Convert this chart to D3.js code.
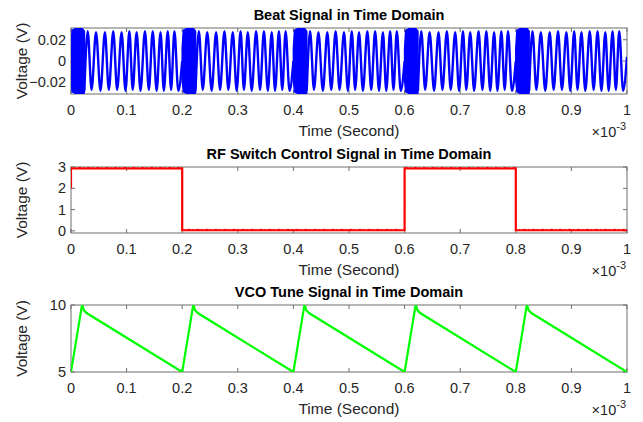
<!DOCTYPE html>
<html>
<head>
<meta charset="utf-8">
<script src="https://cdn.jsdelivr.net/npm/d3@7"></script>
<style>
  body { margin: 0; background: #fff; }
  svg { display: block; font-family: "Liberation Sans", Arial, sans-serif; }
  .tick-label { font-size: 14.5px; fill: #262626; }
  .axis-title { font-size: 15.5px; fill: #262626; }
  .plot-title { font-size: 14.5px; font-weight: bold; fill: #000; }
</style>
</head>
<body>
<div id="chart"></div>
<script>
// --- data (time in ms, shown with a x10^-3 multiplier) ---
const xTicks = [0, 0.1, 0.2, 0.3, 0.4, 0.5, 0.6, 0.7, 0.8, 0.9, 1];
const periodStarts = [0, 0.2, 0.4, 0.6, 0.8];

// beat signal: dense burst at the start of each period, then a slow tone
const burstOffsets = [0, 0.002, 0.006, 0.010, 0.014, 0.018, 0.021, 0.024];
const burstTop = [0.012, 0.029, 0.030, 0.031, 0.030, 0.031, 0.030, 0.028];
const burstBottom = [-0.018, -0.029, -0.030, -0.031, -0.030, -0.031, -0.031, -0.030];
const toneOffsets = [0.024, 0.030, 0.037, 0.045, 0.053, 0.061, 0.068, 0.076, 0.083, 0.091, 0.098,
                     0.105, 0.111, 0.118, 0.125, 0.133, 0.140, 0.147, 0.154, 0.161, 0.167, 0.174,
                     0.180, 0.186, 0.193];
const toneValues = [-0.028, 0.028, -0.027, 0.027, -0.028, 0.027, -0.027, 0.028, -0.027, 0.027, -0.028,
                    0.028, -0.027, 0.027, -0.028, 0.028, -0.027, 0.028, -0.028, 0.027, -0.028, 0.028,
                    -0.027, 0.028, -0.028];
const beatEnd = [1.0, 0.004];
const beatYTicks = [-0.02, 0, 0.02];

// RF switch control
const rfTimes =  [0, 0, 0.2, 0.2, 0.6, 0.6, 0.8, 0.8, 1.0];
const rfValues = [2.0, 2.93, 2.93, 0.03, 0.03, 2.93, 2.93, 0.03, 0.03];
const rfYTicks = [0, 1, 2, 3];

// VCO tune: one sawtooth period (offsets within 0.2 ms)
const vcoOffsets = [0, 0.020, 0.023, 0.028, 0.2];
const vcoValues = [5.0, 10.05, 9.62, 9.40, 5.0];
const vcoYTicks = [5, 10];

const titles = ["Beat Signal in Time Domain", "RF Switch Control Signal in Time Domain", "VCO Tune Signal in Time Domain"];

// --- layout ---
const W = 643, H = 422;
const left = 71, right = 627;
const panels = [
  { top: 28, bottom: 94, domain: [-0.031, 0.031], ticks: beatYTicks, fmt: d => d === 0 ? "0" : d3.format(".2f")(d) },
  { top: 167, bottom: 233, domain: [-0.1, 3], ticks: rfYTicks, fmt: d3.format("d") },
  { top: 305, bottom: 372, domain: [5, 10], ticks: vcoYTicks, fmt: d3.format("d") }
];

const svg = d3.select("#chart").append("svg").attr("width", W).attr("height", H);
const x = d3.scaleLinear().domain([0, 1]).range([left, right]);
const axisColor = "#6e6e6e";

panels.forEach((p, i) => {
  p.y = d3.scaleLinear().domain(p.domain).range([p.bottom, p.top]);
  const g = svg.append("g");

  g.append("clipPath").attr("id", "clip" + i)
    .append("rect").attr("x", left).attr("y", p.top).attr("width", right - left).attr("height", p.bottom - p.top);

  // box
  g.append("rect").attr("x", left).attr("y", p.top).attr("width", right - left).attr("height", p.bottom - p.top)
    .attr("fill", "none").attr("stroke", axisColor).attr("stroke-width", 1);

  // inward ticks on all four sides
  xTicks.forEach(t => {
    g.append("line").attr("x1", x(t)).attr("x2", x(t)).attr("y1", p.bottom).attr("y2", p.bottom - 4).attr("stroke", axisColor);
    g.append("line").attr("x1", x(t)).attr("x2", x(t)).attr("y1", p.top).attr("y2", p.top + 4).attr("stroke", axisColor);
    g.append("text").attr("class", "tick-label").attr("x", x(t)).attr("y", p.bottom + 21)
      .attr("text-anchor", "middle").text(t);
  });
  p.ticks.forEach(v => {
    g.append("line").attr("x1", left).attr("x2", left + 4).attr("y1", p.y(v)).attr("y2", p.y(v)).attr("stroke", axisColor);
    g.append("line").attr("x1", right).attr("x2", right - 4).attr("y1", p.y(v)).attr("y2", p.y(v)).attr("stroke", axisColor);
    g.append("text").attr("class", "tick-label").attr("x", left - 5).attr("y", p.y(v)).attr("dy", "0.35em")
      .attr("text-anchor", "end").text(p.fmt(v));
  });

  g.append("text").attr("class", "axis-title").attr("x", (left + right) / 2).attr("y", p.bottom + 42)
    .attr("text-anchor", "middle").text("Time (Second)");
  g.append("text").attr("class", "axis-title")
    .attr("transform", `translate(${22}, ${(p.top + p.bottom) / 2}) rotate(-90)`)
    .attr("text-anchor", "middle").attr("dy", "0.35em").text("Voltage (V)");
  g.append("text").attr("class", "plot-title").attr("x", (left + right) / 2).attr("y", p.top - 8)
    .attr("text-anchor", "middle").text(titles[i]);

  const mult = g.append("text").attr("class", "tick-label").attr("x", right - 1).attr("y", p.bottom + 43)
    .attr("text-anchor", "end");
  mult.append("tspan").text("\u00d710");
  mult.append("tspan").attr("dy", -7).attr("font-size", "11px").text("-3");

  p.plot = svg.append("g").attr("clip-path", `url(#clip${i})`);
});

// --- beat signal ---
const beat = panels[0];
const segments = periodStarts.map((s, j) => {
  const seg = toneOffsets.map((o, k) => [s + o, toneValues[k]]);
  if (j === periodStarts.length - 1) seg.push(beatEnd);
  else seg.push([periodStarts[j + 1], 0.0]);
  return seg;
});

const toneLine = d3.line().x(d => x(d[0])).y(d => beat.y(d[1])).curve(d3.curveMonotoneX);
segments.forEach(seg => {
  beat.plot.append("path").attr("d", toneLine(seg))
    .attr("fill", "none").attr("stroke", "#0000ff").attr("stroke-width", 2.4);
});

const burstArea = d3.area().x(d => x(d.t)).y0(d => beat.y(d.lo)).y1(d => beat.y(d.hi));
periodStarts.forEach(s => {
  const pts = burstOffsets.map((o, k) => ({ t: s + o, hi: burstTop[k], lo: burstBottom[k] }));
  beat.plot.append("path").attr("d", burstArea(pts))
    .attr("fill", "#0000ff").attr("stroke", "#0000ff").attr("stroke-width", 1.5);
});

// --- RF switch ---
const rf = panels[1];
const rfLine = d3.line().x((d, k) => x(rfTimes[k])).y(d => rf.y(d));
rf.plot.append("path").attr("d", rfLine(rfValues))
  .attr("fill", "none").attr("stroke", "#ff0000").attr("stroke-width", 2.2);
// noise fringe along the levels
rf.plot.append("path").attr("d", d3.line().x((d, k) => x(rfTimes[k])).y(d => rf.y(d + 0.04))(rfValues))
  .attr("fill", "none").attr("stroke", "#ff0000").attr("stroke-width", 1).attr("stroke-dasharray", "3,2,1,3");

// --- VCO tune ---
const vco = panels[2];
const vcoPts = [];
periodStarts.forEach(s => vcoOffsets.forEach((o, k) => vcoPts.push([s + o, vcoValues[k]])));
vco.plot.append("path")
  .attr("d", d3.line().x(d => x(d[0])).y(d => vco.y(d[1]))(vcoPts))
  .attr("fill", "none").attr("stroke", "#00ff00").attr("stroke-width", 2.2);
</script>
</body>
</html>
